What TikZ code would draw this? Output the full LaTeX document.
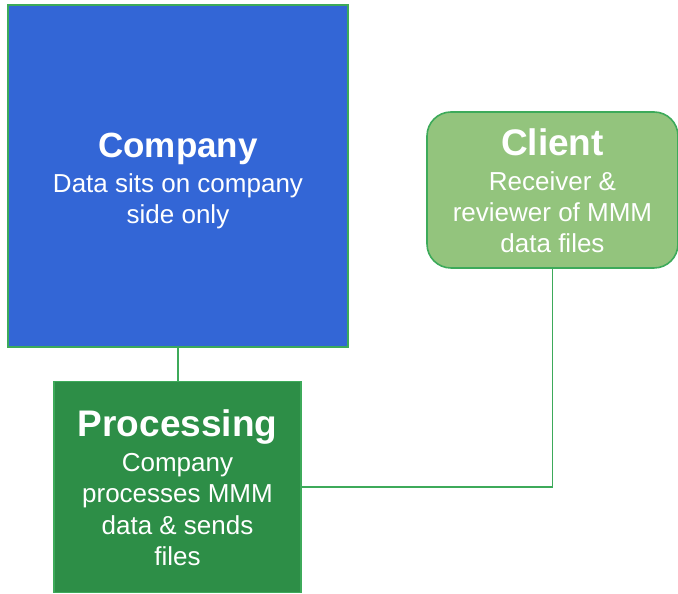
\documentclass[tikz,border=0pt]{standalone}
\usepackage{fontspec}
\setmainfont{Liberation Sans}
\definecolor{compblue}{HTML}{3366D6}
\definecolor{procgreen}{HTML}{2D8E47}
\definecolor{clientgreen}{HTML}{93C47D}
\definecolor{edgegreen}{HTML}{3DAA5A}
\tikzset{
  box/.style={draw=edgegreen, line width=1.6pt, inner sep=0pt},
  boxtext/.style={text=white, align=center, inner sep=0pt,
    font=\fontsize{26}{31.4}\selectfont},
  link/.style={draw=edgegreen, line width=1.6pt},
}
\newcommand{\boxtitle}[2]{{\fontsize{#1}{38}\selectfont\bfseries #2}}
\begin{document}
\begin{tikzpicture}[x=1pt,y=1pt]
\useasboundingbox (0,0) rectangle (678,594);
\node[box, fill=compblue, minimum width=340pt, minimum height=342pt] (company) at (178,418) {};
\node[boxtext] (companytext) at ([yshift=-5pt]company.center)
  {\boxtitle{35}{Company}\\[4pt]Data sits on company\\side only};
\node[box, fill=procgreen, minimum width=247pt, minimum height=211pt] (processing) at (177.5,107) {};
\node[boxtext] (processingtext) at ([yshift=-1pt]processing.center)
  {\boxtitle{37}{Processing}\\[3pt]Company\\processes MMM\\data \& sends\\files};
\node[box, fill=clientgreen, rounded corners=24pt, minimum width=251pt, minimum height=156pt] (client) at (552.5,404) {};
\node[boxtext] (clienttext) at ([yshift=-1pt]client.center)
  {\boxtitle{37}{Client}\\[3pt]Receiver \&\\reviewer of MMM\\data files};
\draw[link] (company.south) -- (company.south |- processing.north);
\draw[link] (processing.east) -| (client.south);
\end{tikzpicture}
\end{document}
